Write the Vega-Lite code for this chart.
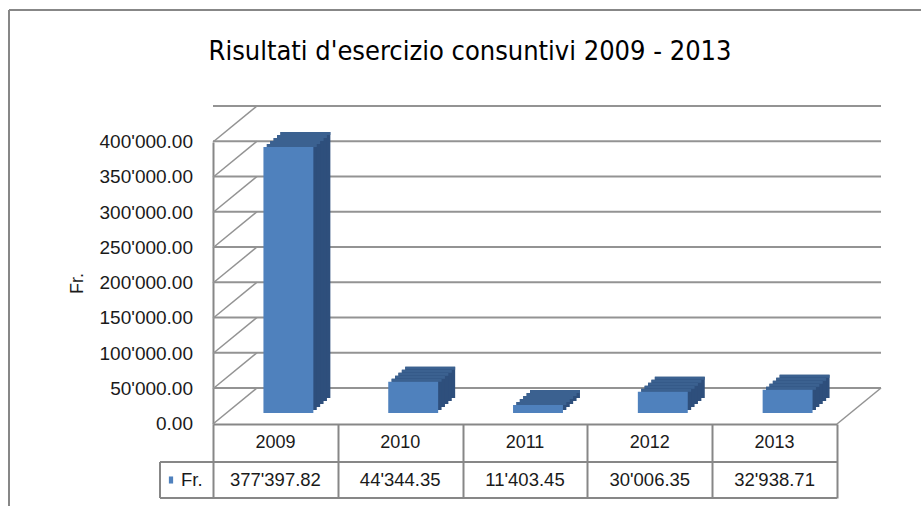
{
  "$schema": "https://vega.github.io/schema/vega-lite/v6.json",
  "width": 624,
  "height": 282,
  "autosize": "none",
  "padding": {"left": 213, "top": 142, "right": 84, "bottom": 82},
  "background": "white",
  "title": {
    "text": "Risultati d'esercizio consuntivi 2009 - 2013",
    "font": "DejaVu Sans Condensed, Liberation Sans",
    "fontSize": 27,
    "fontWeight": "normal",
    "color": "#000000",
    "anchor": "middle",
    "frame": "group",
    "baseline": "alphabetic",
    "offset": -78,
    "dx": -55
  },
  "datasets": {
    "bars": [
      {"year": "2009", "value": 377397.82},
      {"year": "2010", "value": 44344.35},
      {"year": "2011", "value": 11403.45},
      {"year": "2012", "value": 30006.35},
      {"year": "2013", "value": 32938.71}
    ],
    "ticks": [
      {"v": 0}, {"v": 50000}, {"v": 100000}, {"v": 150000}, {"v": 200000},
      {"v": 250000}, {"v": 300000}, {"v": 350000}, {"v": 400000}
    ],
    "one": [{"name": "Fr."}]
  },
  "layer": [
    {
      "data": {"name": "ticks"},
      "mark": {"type": "rule", "color": "#939393", "strokeWidth": 2, "xOffset": 44, "x2Offset": 44, "yOffset": -36},
      "encoding": {
        "y": {
          "field": "v", "type": "quantitative", "title": "Fr.",
          "scale": {"domain": [0, 400000], "nice": false}
        }
      }
    },
    {
      "data": {"name": "ticks"},
      "mark": {"type": "rule", "color": "#939393", "strokeWidth": 1.5, "y2Offset": -36},
      "encoding": {
        "x": {"value": 0},
        "x2": {"value": 44},
        "y": {"field": "v", "type": "quantitative", "title": "Fr."},
        "y2": {"field": "v"}
      }
    },
    {
      "data": {"name": "ticks"},
      "mark": {"type": "text", "fontSize": 19, "color": "#1a1a1a", "align": "right", "baseline": "middle", "dx": -20},
      "encoding": {
        "x": {"value": 0},
        "y": {"field": "v", "type": "quantitative", "title": "Fr."},
        "text": {"field": "v", "type": "quantitative", "format": ",.2f"}
      }
    },
    {
      "data": {"name": "one"},
      "mark": {"type": "rule", "color": "#939393", "strokeWidth": 1.5, "y2Offset": -36},
      "encoding": {
        "x": {"value": 624},
        "x2": {"value": 668},
        "y": {"datum": 0, "type": "quantitative", "title": "Fr."},
        "y2": {"datum": 0}
      }
    },
    {
      "data": {"name": "bars"},
      "mark": {"type": "bar", "color": "#2E4F7C", "width": {"band": 0.4}, "xOffset": 30, "yOffset": -26, "y2Offset": -26},
      "encoding": {
        "x": {
          "field": "year", "type": "nominal", "title": null,
          "scale": {"domain": ["2009", "2010", "2011", "2012", "2013"], "paddingInner": 0, "paddingOuter": 0}
        },
        "y": {"field": "value", "type": "quantitative", "title": "Fr."}
      }
    },
    {
      "data": {"name": "bars"},
      "mark": {"type": "bar", "color": "#3B6190", "width": {"band": 0.4}, "xOffset": 30, "yOffset": -26, "y2Offset": -23},
      "encoding": {
        "x": {"field": "year", "type": "nominal", "title": null},
        "y": {"field": "value", "type": "quantitative", "title": "Fr."},
        "y2": {"field": "value"}
      }
    },
    {
      "data": {"name": "bars"},
      "mark": {"type": "bar", "color": "#2E4F7C", "width": {"band": 0.4}, "xOffset": 26.6, "yOffset": -23, "y2Offset": -23},
      "encoding": {
        "x": {"field": "year", "type": "nominal", "title": null},
        "y": {"field": "value", "type": "quantitative", "title": "Fr."}
      }
    },
    {
      "data": {"name": "bars"},
      "mark": {"type": "bar", "color": "#3B6190", "width": {"band": 0.4}, "xOffset": 26.6, "yOffset": -23, "y2Offset": -20},
      "encoding": {
        "x": {"field": "year", "type": "nominal", "title": null},
        "y": {"field": "value", "type": "quantitative", "title": "Fr."},
        "y2": {"field": "value"}
      }
    },
    {
      "data": {"name": "bars"},
      "mark": {"type": "bar", "color": "#2E4F7C", "width": {"band": 0.4}, "xOffset": 23.2, "yOffset": -20, "y2Offset": -20},
      "encoding": {
        "x": {"field": "year", "type": "nominal", "title": null},
        "y": {"field": "value", "type": "quantitative", "title": "Fr."}
      }
    },
    {
      "data": {"name": "bars"},
      "mark": {"type": "bar", "color": "#3B6190", "width": {"band": 0.4}, "xOffset": 23.2, "yOffset": -20, "y2Offset": -17},
      "encoding": {
        "x": {"field": "year", "type": "nominal", "title": null},
        "y": {"field": "value", "type": "quantitative", "title": "Fr."},
        "y2": {"field": "value"}
      }
    },
    {
      "data": {"name": "bars"},
      "mark": {"type": "bar", "color": "#2E4F7C", "width": {"band": 0.4}, "xOffset": 19.8, "yOffset": -17, "y2Offset": -17},
      "encoding": {
        "x": {"field": "year", "type": "nominal", "title": null},
        "y": {"field": "value", "type": "quantitative", "title": "Fr."}
      }
    },
    {
      "data": {"name": "bars"},
      "mark": {"type": "bar", "color": "#3B6190", "width": {"band": 0.4}, "xOffset": 19.8, "yOffset": -17, "y2Offset": -14},
      "encoding": {
        "x": {"field": "year", "type": "nominal", "title": null},
        "y": {"field": "value", "type": "quantitative", "title": "Fr."},
        "y2": {"field": "value"}
      }
    },
    {
      "data": {"name": "bars"},
      "mark": {"type": "bar", "color": "#2E4F7C", "width": {"band": 0.4}, "xOffset": 16.4, "yOffset": -14, "y2Offset": -14},
      "encoding": {
        "x": {"field": "year", "type": "nominal", "title": null},
        "y": {"field": "value", "type": "quantitative", "title": "Fr."}
      }
    },
    {
      "data": {"name": "bars"},
      "mark": {"type": "bar", "color": "#3B6190", "width": {"band": 0.4}, "xOffset": 16.4, "yOffset": -14, "y2Offset": -11},
      "encoding": {
        "x": {"field": "year", "type": "nominal", "title": null},
        "y": {"field": "value", "type": "quantitative", "title": "Fr."},
        "y2": {"field": "value"}
      }
    },
    {
      "data": {"name": "bars"},
      "mark": {"type": "bar", "color": "#4F81BD", "width": {"band": 0.4}, "xOffset": 13, "yOffset": -11, "y2Offset": -11},
      "encoding": {
        "x": {"field": "year", "type": "nominal", "title": null},
        "y": {"field": "value", "type": "quantitative", "title": "Fr."}
      }
    },
    {
      "data": {"name": "one"},
      "mark": {"type": "rule", "color": "#878787", "strokeWidth": 2, "yOffset": 38},
      "encoding": {"x": {"value": -53}, "x2": {"value": 624}, "y": {"datum": 0, "type": "quantitative", "title": "Fr."}}
    },
    {
      "data": {"name": "one"},
      "mark": {"type": "rule", "color": "#878787", "strokeWidth": 2, "yOffset": 74},
      "encoding": {"x": {"value": -53}, "x2": {"value": 624}, "y": {"datum": 0, "type": "quantitative", "title": "Fr."}}
    },
    {
      "data": {"name": "one"},
      "mark": {"type": "rule", "color": "#878787", "strokeWidth": 2, "yOffset": 38, "y2Offset": 74},
      "encoding": {"x": {"value": -53}, "y": {"datum": 0, "type": "quantitative", "title": "Fr."}, "y2": {"datum": 0}}
    },
    {
      "data": {"name": "bars"},
      "mark": {"type": "text", "fontSize": 18, "color": "#1a1a1a", "baseline": "middle", "align": "center", "yOffset": 19},
      "encoding": {
        "x": {"field": "year", "type": "nominal", "title": null},
        "y": {"datum": 0, "type": "quantitative", "title": "Fr."},
        "text": {"field": "year"}
      }
    },
    {
      "data": {"name": "bars"},
      "mark": {"type": "text", "fontSize": 18.5, "color": "#1a1a1a", "baseline": "middle", "align": "center", "yOffset": 56},
      "encoding": {
        "x": {"field": "year", "type": "nominal", "title": null},
        "y": {"datum": 0, "type": "quantitative", "title": "Fr."},
        "text": {"field": "value", "type": "quantitative", "format": ",.2f"}
      }
    },
    {
      "data": {"name": "one"},
      "mark": {"type": "point", "shape": "M-0.3,-0.5L0.3,-0.5L0.3,0.5L-0.3,0.5Z", "size": 200, "filled": true, "color": "#4F81BD", "opacity": 1, "xOffset": -42, "yOffset": 56},
      "encoding": {"x": {"value": 0}, "y": {"datum": 0, "type": "quantitative", "title": "Fr."}}
    },
    {
      "data": {"name": "one"},
      "mark": {"type": "text", "fontSize": 18.5, "color": "#1a1a1a", "baseline": "middle", "align": "left", "xOffset": -32, "yOffset": 56},
      "encoding": {"x": {"value": 0}, "y": {"datum": 0, "type": "quantitative", "title": "Fr."}, "text": {"field": "name"}}
    },
    {
      "data": {"name": "one"},
      "mark": {"type": "rule", "color": "#878787", "strokeWidth": 2},
      "encoding": {"x": {"value": -204}, "y": {"value": -132}, "y2": {"value": 364}}
    },
    {
      "data": {"name": "one"},
      "mark": {"type": "rule", "color": "#878787", "strokeWidth": 2},
      "encoding": {"x": {"value": -204}, "x2": {"value": 708}, "y": {"value": -132}}
    }
  ],
  "config": {
    "font": "Liberation Sans",
    "view": {"stroke": null},
    "axisX": {
      "labels": false,
      "grid": false,
      "domain": true,
      "domainColor": "#878787",
      "domainWidth": 2,
      "ticks": true,
      "tickBand": "extent",
      "tickSize": 74,
      "tickColor": "#878787",
      "tickWidth": 2
    },
    "axisY": {
      "grid": false,
      "ticks": false,
      "labels": false,
      "domain": true,
      "domainColor": "#878787",
      "domainWidth": 2,
      "titleFontSize": 18,
      "titleFontWeight": "normal",
      "titleColor": "#1a1a1a",
      "titlePadding": 127
    },
    "locale": {"number": {"decimal": ".", "thousands": "'", "grouping": [3], "currency": ["", ""]}}
  }
}
